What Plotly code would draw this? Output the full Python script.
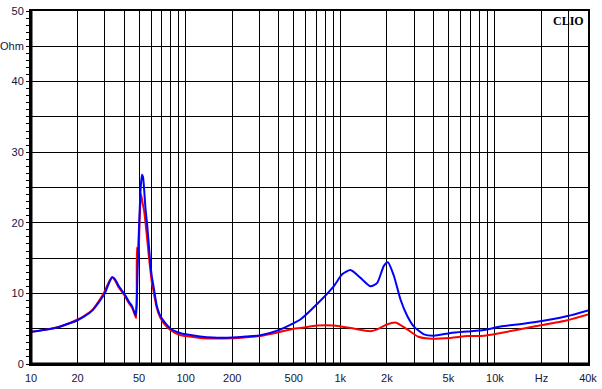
import plotly.graph_objects as go

# ---- data ----
freq_blue = [10, 12, 15, 18, 20, 22, 25, 28, 30, 32, 33.5, 35, 37, 40, 43, 45, 46.5, 47.5,
             48.2, 48.8, 49.5, 50.3, 51.2, 52.2, 53, 54, 55, 56.5, 58, 59, 60.5, 62, 65, 68,
             72, 80, 92, 100, 124, 150, 200, 250, 300, 400, 500, 552, 708, 907, 1029, 1165,
             1352, 1570, 1734, 1914, 2032, 2220, 2454, 2712, 2993, 3475, 4033, 5174, 6634,
             8500, 10900, 17900, 29500, 40000]
imp_blue = [4.55, 4.8, 5.2, 5.8, 6.2, 6.7, 7.6, 9.0, 10.0, 11.5, 12.3, 12.0, 11.0, 10.0, 8.8,
            8.2, 7.4, 6.9, 8.5, 12.5, 17.0, 21.0, 25.0, 26.8, 26.5, 24.5, 22.0, 19.5, 16.5,
            14.5, 12.3, 11.0, 8.3, 7.0, 6.1, 5.0, 4.4, 4.2, 3.9, 3.75, 3.75, 3.9, 4.05, 4.8,
            5.8, 6.3, 8.5, 11.0, 12.7, 13.3, 12.2, 11.0, 11.5, 13.9, 14.4, 12.5, 9.1, 6.8,
            5.3, 4.2, 4.0, 4.4, 4.6, 4.8, 5.3, 5.9, 6.8, 7.6]

freq_red = [10, 12, 15, 18, 20, 22, 25, 28, 30, 32, 33.5, 35, 37, 40, 43, 45, 46.5, 47.9,
            48.4, 49.5, 50.5, 51.5, 52.5, 54, 55, 56.5, 58, 59, 60.5, 62, 65, 68, 72, 80, 92,
            100, 124, 150, 200, 250, 300, 400, 500, 552, 708, 907, 1165, 1570, 1734, 2000,
            2300, 2712, 3200, 3700, 5174, 6634, 8500, 10900, 17900, 29500, 40000]
imp_red = [4.55, 4.8, 5.25, 5.85, 6.3, 6.8, 7.7, 9.2, 10.3, 11.7, 12.3, 11.8, 10.8, 9.8, 8.6,
           8.0, 7.2, 6.5, 16.5, 15.0, 21.0, 24.0, 23.0, 21.5, 20.0, 17.5, 15.0, 13.5, 11.5,
           10.3, 8.0, 6.7, 5.8, 4.8, 4.1, 3.95, 3.7, 3.6, 3.65, 3.8, 3.95, 4.5, 5.0, 5.1,
           5.45, 5.45, 5.1, 4.65, 4.9, 5.6, 5.85, 4.9, 3.86, 3.6, 3.7, 3.95, 4.0, 4.4, 5.3,
           6.2, 7.0]

x_tick_vals = [10, 20, 30, 40, 50, 60, 70, 80, 90,
               100, 200, 300, 400, 500, 600, 700, 800, 900,
               1000, 2000, 3000, 4000, 5000, 6000, 7000, 8000, 9000,
               10000, 20000, 30000, 40000]
x_tick_text = ["10", "20", "", "", "50", "", "", "", "",
               "100", "200", "", "", "500", "", "", "", "",
               "1k", "2k", "", "", "5k", "", "", "", "",
               "10k", "Hz", "", "40k"]

y_tick_vals = [0, 5, 10, 15, 20, 25, 30, 35, 40, 45, 50]
y_tick_text = ["0", "", "10", "", "20", "", "30", "", "40", "Ohm", "50"]

label_color = "#14143c"
font_family = "Liberation Sans, Arial, sans-serif"

fig = go.Figure()
fig.add_trace(go.Scatter(x=freq_red, y=imp_red, mode="lines",
                         line=dict(color="#ff0000", width=2, shape="spline", smoothing=0.6),
                         showlegend=False, hoverinfo="skip"))
fig.add_trace(go.Scatter(x=freq_blue, y=imp_blue, mode="lines",
                         line=dict(color="#0000ff", width=2, shape="spline", smoothing=0.6),
                         showlegend=False, hoverinfo="skip"))

fig.update_layout(
    width=602, height=389,
    margin=dict(l=31, r=14, t=11, b=25, pad=0),
    paper_bgcolor="white", plot_bgcolor="white",
    font=dict(family=font_family, size=11, color=label_color),
    xaxis=dict(type="log", range=[1, 4.60206], tickmode="array",
               tickvals=x_tick_vals, ticktext=x_tick_text, automargin=False,
               showgrid=True, gridcolor="black", gridwidth=1,
               showline=True, linecolor="black", linewidth=2, mirror=True,
               ticks="outside", ticklen=3, tickcolor="rgba(0,0,0,0)",
               zeroline=False, tickfont=dict(size=11, color=label_color)),
    yaxis=dict(range=[0, 50], tickmode="array",
               tickvals=y_tick_vals, ticktext=y_tick_text, automargin=False,
               showgrid=True, gridcolor="black", gridwidth=1,
               showline=True, linecolor="black", linewidth=2, mirror=True,
               ticks="outside", ticklen=3, tickcolor="black", tickwidth=1,
               minor=dict(tickmode="linear", tick0=0, dtick=1, ticks="outside",
                          ticklen=3, tickcolor="black", tickwidth=1, showgrid=False),
               zeroline=False, tickfont=dict(size=11, color=label_color)),
    yaxis2=dict(range=[0, 50], overlaying="y", side="right", showgrid=False,
                showticklabels=False, tickmode="linear", tick0=0, dtick=1, automargin=False,
                ticks="outside", ticklen=3, tickcolor="black", zeroline=False),
)

# thicker left and bottom frame lines
fig.add_shape(type="line", xref="paper", yref="paper", x0=0, x1=0, y0=0, y1=1,
              line=dict(color="black", width=3))
fig.add_shape(type="line", xref="paper", yref="paper", x0=0, x1=1, y0=0, y1=0,
              line=dict(color="black", width=3))

fig.add_annotation(text="<b>CLIO</b>", xref="paper", yref="paper", x=0.997, y=0.997,
                   xanchor="right", yanchor="top", showarrow=False,
                   font=dict(family="Liberation Serif, DejaVu Serif, serif", size=12,
                             color="black"))

fig.write_html("out.html", config={"displayModeBar": False},
               post_script="document.body.style.margin='0';document.body.style.overflow='hidden';")
